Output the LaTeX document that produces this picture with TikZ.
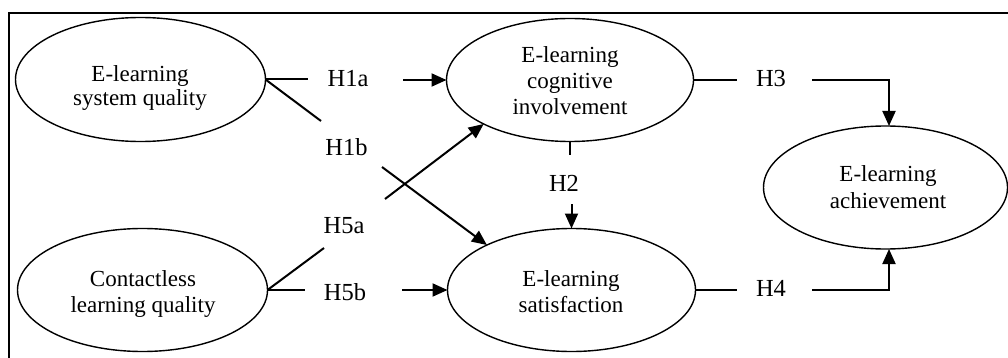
\documentclass[tikz,border=0pt]{standalone}
\usepackage{fontspec}
\setmainfont{Liberation Serif}
\usetikzlibrary{shapes.geometric,arrows.meta}
\begin{document}
\begin{tikzpicture}[x=1pt,y=-1pt,
  ell/.style={draw, ellipse, line width=1.4pt, inner sep=0pt, outer sep=0pt},
  txt/.style={align=center, inner sep=0pt, font=\fontsize{23}{26}\selectfont},
  lab/.style={inner sep=0pt, font=\fontsize{24.5}{28}\selectfont},
  con/.style={line width=2pt},
  arr/.style={con, -{Triangle[length=15pt,width=13pt]}}]
\useasboundingbox (0,0) rectangle (1008,358);
\clip (0,0) rectangle (1008,358);
% frame (cut at right and bottom)
\draw[line width=2pt] (9,400) -- (9,13) -- (1050,13);

% ellipses
\node[ell, minimum width=250pt, minimum height=124pt] (sq) at (140.5,79.5) {};
\node[ell, minimum width=250pt, minimum height=123pt] (cl) at (142.5,290) {};
\node[ell, minimum width=247pt, minimum height=123pt] (cog) at (570,80) {};
\node[ell, minimum width=248pt, minimum height=123pt] (sat) at (571.5,290) {};
\node[ell, minimum width=244pt, minimum height=123pt] (ach) at (885.5,187.5) {};

% ellipse texts
\node[txt, font=\fontsize{23}{24}\selectfont] (sqt) at (140,87.6) {E-learning\\system quality};
\node[txt] (cogt) at (570,80.2) {E-learning\\cognitive\\involvement};
\node[txt] (clt) at (143,293.6) {Contactless\\learning quality};
\node[txt] (satt) at (571,291.2) {E-learning\\satisfaction};
\node[txt, font=\fontsize{23}{27}\selectfont] (acht) at (888,187.6) {E-learning\\achievement};

% labels
\node[lab] (h1a) at (348,79) {H1a};
\node[lab] (h1b) at (346.5,147.5) {H1b};
\node[lab] (h5a) at (344,226) {H5a};
\node[lab] (h5b) at (345,292) {H5b};
\node[lab] (h2) at (564,183) {H2};
\node[lab] (h3) at (771,79) {H3};
\node[lab] (h4) at (771,288) {H4};

% gap end points
\coordinate (g1a1) at (308,79.5);
\coordinate (g1a2) at (403,80);
\coordinate (g1b1) at (321,121);
\coordinate (g1b2) at (382,167);
\coordinate (g5a1) at (324,248);
\coordinate (g5a2) at (385,199);
\coordinate (g5b1) at (305,290);
\coordinate (g5b2) at (402,290);
\coordinate (g2a) at (570,155);
\coordinate (g2b) at (571.5,204);
\coordinate (g3a) at (737,80);
\coordinate (g3b) at (812,80);
\coordinate (g4a) at (737,290);
\coordinate (g4b) at (812,290);

% connectors
\draw[con] (sq.east) -- (g1a1);
\draw[arr] (g1a2) -- (cog.west);
\draw[con] (sq.east) -- (g1b1);
\draw[arr] (g1b2) -- (sat.152);
\draw[con] (cl.east) -- (g5a1);
\draw[arr] (g5a2) -- (cog.207);
\draw[con] (cl.east) -- (g5b1);
\draw[arr] (g5b2) -- (sat.west);
\draw[con] (cog.south) -- (g2a);
\draw[arr] (g2b) -- (sat.north);
\draw[con] (cog.east) -- (g3a);
\draw[arr] (g3b) -| ([xshift=3.5pt]ach.north);
\draw[con] (sat.east) -- (g4a);
\draw[arr] (g4b) -| ([xshift=3.5pt]ach.south);
\end{tikzpicture}
\end{document}
